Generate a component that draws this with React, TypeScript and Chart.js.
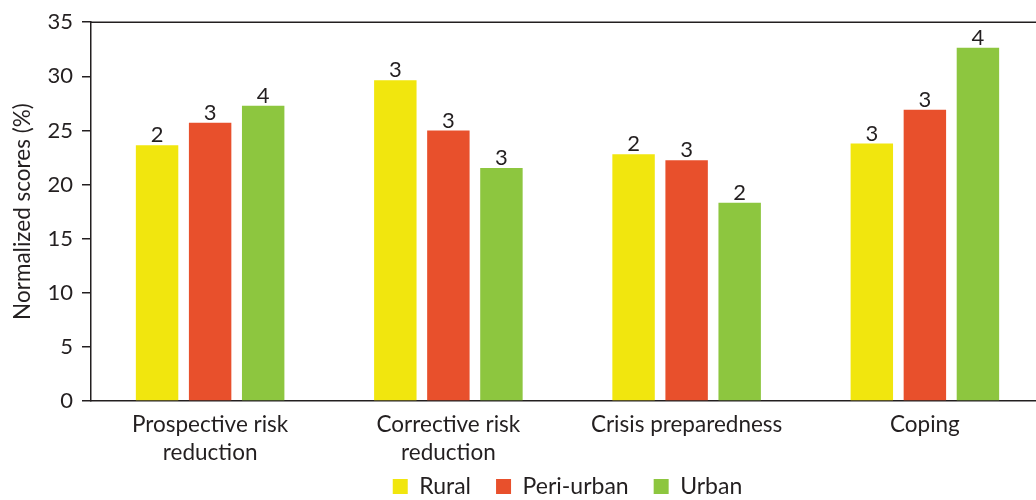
import React, { useEffect, useRef } from "react";
import { Chart, registerables } from "chart.js";

Chart.register(...registerables);

const categories: (string | string[])[] = [
  ["Prospective risk", "reduction"],
  ["Corrective risk", "reduction"],
  "Crisis preparedness",
  "Coping",
];
const rural = [23.62, 29.64, 22.8, 23.8];
const periUrban = [25.72, 24.99, 22.25, 26.9];
const urban = [27.27, 21.52, 18.32, 32.65];
const ruralLabels = ["2", "3", "2", "3"];
const periUrbanLabels = ["3", "3", "3", "3"];
const urbanLabels = ["4", "3", "2", "4"];
const yTicks = [0, 5, 10, 15, 20, 25, 30, 35];

const TEXT = "#231F20";
const FONT = "Lato, 'Open Sans', sans-serif";

const barLabelPlugin = {
  id: "barLabels",
  afterDatasetsDraw(chart: any) {
    const ctx = chart.ctx;
    ctx.save();
    ctx.fillStyle = TEXT;
    ctx.font = `22px ${FONT}`;
    ctx.textAlign = "center";
    ctx.textBaseline = "bottom";
    chart.data.datasets.forEach((ds: any, i: number) => {
      const meta = chart.getDatasetMeta(i);
      meta.data.forEach((bar: any, j: number) => {
        ctx.fillText(ds.valueLabels[j], bar.x, bar.y + 1);
      });
    });
    ctx.restore();
  },
};

const topLinePlugin = {
  id: "topLine",
  afterLayout(chart: any) {
    // let the two-line category labels extend below the fitted axis box
    chart.scales.x.bottom = chart.scales.x.top + 70;
  },
  afterDraw(chart: any) {
    const { ctx, chartArea } = chart;
    ctx.save();
    ctx.strokeStyle = TEXT;
    ctx.lineWidth = 1.5;
    ctx.beginPath();
    ctx.moveTo(chartArea.left, chartArea.top);
    ctx.lineTo(chart.width, chartArea.top);
    ctx.stroke();
    ctx.restore();
  },
};

export default function App() {
  const ref = useRef<HTMLCanvasElement>(null);
  useEffect(() => {
    document.documentElement.style.overflow = "hidden";
    document.body.style.overflow = "hidden";
    const chart = new Chart(ref.current!, {
      type: "bar",
      data: {
        labels: categories,
        datasets: [
          { label: "Rural", data: rural, backgroundColor: "#F1E60E", valueLabels: ruralLabels } as any,
          { label: "Peri-urban", data: periUrban, backgroundColor: "#E8502C", valueLabels: periUrbanLabels } as any,
          { label: "Urban", data: urban, backgroundColor: "#8DC63F", valueLabels: urbanLabels } as any,
        ],
      },
      options: {
        animation: false,
        responsive: false,
        maintainAspectRatio: false,
        layout: { padding: { top: 17, right: 8, bottom: 0, left: 0 } },
        datasets: { bar: { categoryPercentage: 0.668, barPercentage: 0.8 } },
        plugins: {
          legend: {
            position: "bottom",
            fullSize: false,
            labels: {
              boxWidth: 15,
              boxHeight: 15,
              padding: 25,
              color: TEXT,
              font: { size: 23, family: FONT },
            },
          },
          tooltip: { enabled: false },
        },
        scales: {
          x: {
            grid: { display: false },
            border: { display: true, color: TEXT, width: 1.5 },
            ticks: {
              color: TEXT,
              font: { size: 22.5, family: FONT, lineHeight: 1.25 },
              padding: 2,
              maxRotation: 0,
              autoSkip: false,
            },
            afterFit: (s: any) => {
              s.height = 49;
            },
          },
          y: {
            min: 0,
            max: 35,
            afterBuildTicks: (s: any) => {
              s.ticks = yTicks.map((v) => ({ value: v }));
            },
            grid: { drawOnChartArea: false, drawTicks: true, tickLength: 9, color: TEXT, lineWidth: 1.5 },
            border: { display: true, color: TEXT, width: 1.5 },
            ticks: { color: TEXT, font: { size: 22, family: FONT }, padding: 9 },
            title: {
              display: true,
              text: "Normalized scores (%)",
              color: TEXT,
              font: { size: 22.5, family: FONT },
              padding: { top: 9, bottom: 0 },
            },
            afterFit: (s: any) => {
              s.width = 91;
            },
          },
        },
      },
      plugins: [barLabelPlugin, topLinePlugin],
    });
    return () => chart.destroy();
  }, []);
  return (
    <div style={{ position: "absolute", left: 0, top: 0, width: 1052, height: 508 }}>
      <canvas ref={ref} width={1052} height={508} style={{ display: "block" }} />
    </div>
  );
}
